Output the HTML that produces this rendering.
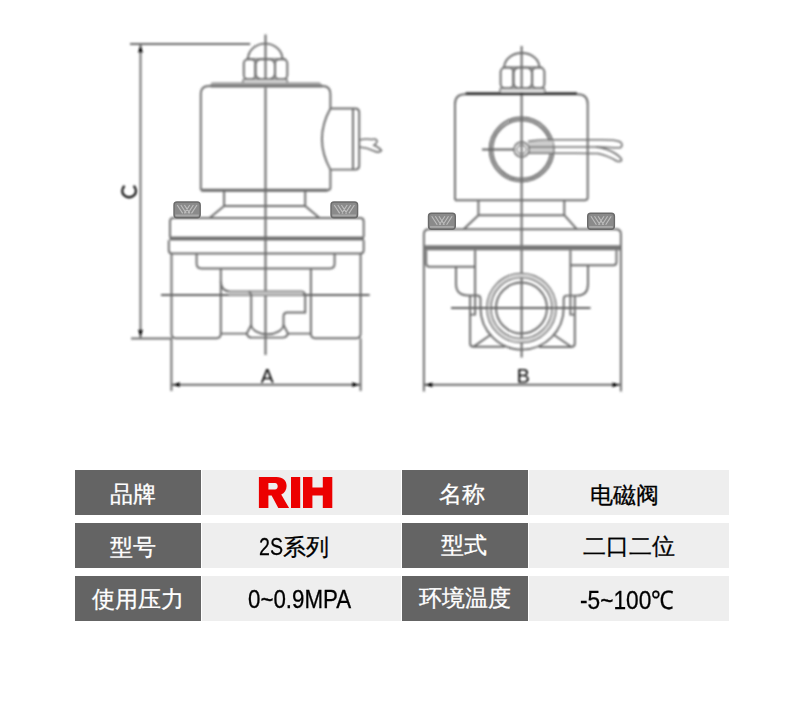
<!DOCTYPE html>
<html><head><meta charset="utf-8">
<style>
html,body{margin:0;padding:0;background:#fff;}
body{width:800px;height:703px;position:relative;overflow:hidden;font-family:"Liberation Sans",sans-serif;}
.c{position:absolute;}
.d{background:#646464;}
.l{background:#eeeeee;}
.t{position:absolute;white-space:nowrap;font-size:23px;line-height:1;-webkit-text-stroke:0.3px currentColor;}
.w{color:#fff;}
.k{color:#000;}
svg{position:absolute;left:0;top:0;}
.sx{display:inline-block;transform-origin:0 0;vertical-align:baseline;}
</style></head><body>
<svg width="800" height="440" viewBox="0 0 800 440">
<!-- DRAWING -->
<defs><filter id="bl" x="-5%" y="-5%" width="110%" height="110%"><feGaussianBlur stdDeviation="1.0"/></filter><filter id="bl2" x="-5%" y="-5%" width="110%" height="110%"><feGaussianBlur stdDeviation="0.45"/></filter></defs>
<g filter="url(#bl)" stroke="#6c6c6c" stroke-width="2" fill="none">
<path d="M130,44 H250.2" stroke="#676767" stroke-width="1.85"/>
<path d="M140.5,44 V338" stroke="#676767" stroke-width="1.85"/>
<path d="M140.5,45.099999999999994 L138.1,52.599999999999994 H142.9 Z" fill="#000000" stroke="none"/>
<path d="M140.5,337.2 L138.1,329.7 H142.9 Z" fill="#000000" stroke="none"/>
<path d="M131,338.4 H171.5" stroke-width="2"/>
<path d="M265.5,34.5 V355" stroke="#616161" stroke-width="1.9"/>
<path d="M248,59 A17.2,15.4 0 0 1 282.4,59" stroke-width="1.95"/>
<path d="M246,59 H286" stroke="#6c6c6c" stroke-width="1.7"/>
<rect x="243.8" y="59.3" width="11.6" height="19.8" rx="4.2" stroke-width="1.95"/>
<rect x="255.4" y="59.3" width="19.6" height="19.8" rx="5.5" stroke-width="1.95"/>
<rect x="275" y="59.3" width="12.3" height="19.8" rx="4.2" stroke-width="1.95"/>
<path d="M242.6,83.2 L243.5,79.4 H286.8 L287.6,83.2" stroke-width="1.5" fill="#eaeaea"/>
<path d="M210.5,87.8 V84.5 Q210.5,82.2 213,82.2 H319.5 L322.5,85 V87.8 Z" fill="#A0A0A0" stroke="none"/>
<path d="M200.8,190 V94 Q200.8,86 208.8,86 H322.3 Q330.4,86 330.4,94 V108.5 M330.4,169.6 V187.6 Q330.4,190.2 327.8,190.2 H200.8" stroke-width="1.95"/>
<path d="M201.5,190.2 H327.5" stroke-width="2.9"/>
<path d="M330.4,108.5 H355 Q359.2,108.5 359.2,112.5 V165.6 Q359.2,169.6 355,169.6 H330.4" stroke-width="1.95"/>
<path d="M353,108.5 V169.6" stroke-width="1.95"/>
<path d="M330.4,108.5 Q313.5,139 330.4,169.6" stroke-width="1.95"/>
<path d="M359.2,140 Q366,138.5 372,139.5 Q376,138 377.2,141 Q376.5,144 374,145.2 Q379.5,147.5 381.5,150.5 Q379,153.5 374,151 Q367,147.5 359.2,147" stroke-width="1.5"/>
<path d="M224.1,190.2 V206 H305.2 V190.2 M224.1,206 L209.8,217.8 M305.2,206 L319.3,217.8" stroke-width="1.95"/>
<path d="M170,237 V221.4 Q170,218 173.5,218 H360.2 Q363.7,218 363.7,221.4 V237" stroke-width="1.95"/>
<rect x="169.5" y="236.6" width="194.5" height="3.8" fill="#6a6a6a" stroke="none"/>
<path d="M168.8,240.2 V250.2 Q168.8,253.5 172,253.5 H360.5 Q363.7,253.5 363.7,250.2 V240.2" stroke-width="1.95"/>
<path d="M196.6,253.5 V263.5 Q196.6,268.4 201.5,268.4 H330 Q334.6,268.4 334.6,263.5 V253.5" stroke-width="1.95"/>
<path d="M171.5,253.5 V333.8 Q171.5,338.2 175.8,338.2 H216.5 Q220.8,338.2 220.8,333.8 V268.4" stroke-width="1.95"/>
<path d="M360.6,253.5 V333.8 Q360.6,338.2 356.3,338.2 H315.2 Q310.9,338.2 310.9,333.8 V268.4" stroke-width="1.95"/>
<path d="M220.8,333.6 H246.7 M288,333.6 H310.9" stroke-width="1.95"/>
<path d="M161,294.9 H369.7" stroke="#616161" stroke-width="2"/>
<path d="M220.8,281 Q221,291.4 230,291.4 H301.5 Q305.2,292 305.2,296 V312.5 H287.3 Q283.5,312.5 283.5,316.5 V325" stroke-width="1.95"/>
<rect x="229" y="291.6" width="73.5" height="3.4" fill="#C4C4C4" stroke="none"/>
<path d="M249,291.4 L251.2,294.5 V325" stroke-width="1.95"/>
<path d="M251.2,325 A16.2,10 0 0 0 283.5,325" stroke-width="1.95"/>
<path d="M251.2,325 L246.7,333.6 Q248,337.6 251.5,337.6 H282.5 Q286.5,337.6 288,333.6 L283.5,325" stroke-width="1.95"/>
<path d="M171.4,338.2 V391 M360.6,338.2 V391" stroke-width="1.95"/>
<path d="M171.4,384.8 H360.6" stroke="#676767" stroke-width="2.1"/>
<path d="M172.5,384.7 L180.0,382.3 V387.09999999999997 Z" fill="#000000" stroke="none"/>
<path d="M359.5,384.7 L352.0,382.3 V387.09999999999997 Z" fill="#000000" stroke="none"/>
<path d="M521.6,46 V357.5" stroke="#616161" stroke-width="1.9"/>
<path d="M504.2,67.3 A17.6,14.3 0 0 1 539.4,67.3" stroke-width="1.95"/>
<path d="M502.5,67.3 H542.5" stroke="#6c6c6c" stroke-width="1.7"/>
<rect x="500.6" y="67.6" width="12.8" height="20.6" rx="4.5" stroke-width="1.95"/>
<rect x="513.4" y="67.6" width="18.7" height="20.6" rx="5.5" stroke-width="1.95"/>
<rect x="532.1" y="67.6" width="12.3" height="20.6" rx="4.5" stroke-width="1.95"/>
<path d="M499.7,92 L500.5,88.4 H544.3 L545,92" stroke-width="1.5" fill="#eaeaea"/>
<path d="M455,200 V104 Q455,94.2 465,94.2 H577.7 Q587.7,94.2 587.7,104 V197.6 Q587.7,200.2 585,200.2 H455" stroke-width="1.95"/>
<path d="M465.6,93.6 H577" stroke="#2d2d2d" stroke-width="2.8"/>
<circle cx="521.6" cy="149.5" r="32" stroke-width="1.95"/>
<circle cx="521.6" cy="149.5" r="29.3" stroke-width="1.95"/>
<path d="M482,149.5 H514" stroke="#616161" stroke-width="2"/>
<rect x="528" y="141" width="25" height="12" fill="#cdcdcd" stroke="none"/>
<path d="M528,141.5 Q536,140 552,139.8 H602 Q616,139.8 620.5,142 Q623.5,145 620.5,147.6 Q616,148 600,147 H528" stroke-width="1.6"/>
<path d="M596,147 Q608,148.5 616,154 Q622,158 621.5,160.3 Q620.5,162.3 616.5,161 Q610,156.5 598,153.5 Q590,153.2 575,153.2 H528" stroke-width="1.6"/>
<circle cx="521.6" cy="149.5" r="7.6" stroke-width="1.5"/>
<path d="M526.6,149.5 L524.1,153.8 H519.1 L516.6,149.5 L519.1,145.2 H524.1 Z" stroke-width="1.1"/>
<path d="M478.4,200.2 V215.2 H564.3 V200.2 M478.4,215.2 L463.6,229.3 M564.3,215.2 L577,229.3" stroke-width="1.95"/>
<path d="M423.9,391.5 V234.3 Q423.9,229.3 428.9,229.3 H615.9 Q620.9,229.3 620.9,234.3 V391.5" stroke-width="1.95"/>
<rect x="424.5" y="245.3" width="196" height="5" fill="#747474" stroke="none"/>
<path d="M426.2,250.3 V263.5 Q426.2,266.8 429.5,266.8 H475.1 M616.5,250.3 V262 Q616.5,265.2 613.3,265.2 H570.4" stroke-width="1.95"/>
<path d="M475.1,250.3 V314.6 H470.1 M570.4,250.3 V314.6 H575" stroke-width="1.95"/>
<path d="M456,266.8 V284 Q456,295.5 468.6,295.5 H477 Q480.5,295.5 480.5,299 V308 A41.6,41.6 0 0 0 563.7,308 V299 Q563.7,295.6 567,295.6 H576.9 Q588,295.6 588,284 V265.2" stroke-width="1.95"/>
<circle cx="521.5" cy="308" r="32.6" stroke="#E6E6E6" stroke-width="3"/>
<circle cx="521.5" cy="308" r="34.6" stroke-width="1.5"/>
<circle cx="521.5" cy="308" r="30.6" stroke-width="1.5"/>
<circle cx="521.5" cy="308" r="25.5" stroke-width="1.95"/>
<path d="M451,308 H590.5" stroke="#616161" stroke-width="2"/>
<path d="M470.1,295.5 V343.5 Q470.1,346.8 473.5,346.8 H505" stroke-width="1.95"/>
<path d="M574.8,295.6 V343.5 Q574.8,346.9 571.5,346.9 H539" stroke-width="1.95"/>
<path d="M473.6,346.6 L490,335.3 M554.5,335.3 L571.2,346.8" stroke-width="1.95"/>
<path d="M423.9,384.8 H620.9" stroke="#676767" stroke-width="2.1"/>
<path d="M425.0,384.8 L432.5,382.40000000000003 V387.2 Z" fill="#000000" stroke="none"/>
<path d="M619.8000000000001,384.8 L612.3000000000001,382.40000000000003 V387.2 Z" fill="#000000" stroke="none"/>
<g fill="#000000" stroke="none" font-family="Liberation Sans" font-size="19.5">
<text x="267.3" y="383" text-anchor="middle">A</text>
<text x="523.2" y="383" text-anchor="middle">B</text>
</g>
<path d="M133.6,185.9 A6.9,6.5 0 1 1 124.6,185.9" stroke="#000000" stroke-width="2.1"/>
</g>
<g filter="url(#bl2)" fill="none">
<rect x="174" y="202" width="26.2" height="15.8" rx="3" fill="#8A8A8A" stroke="#6A6A6A" stroke-width="1.4"/><path d="M177.2,205.0 L182.7,213.3 M197.0,205.0 L191.5,213.3 M180.8,205.0 L186.3,213.3 M193.4,205.0 L187.9,213.3 M184.4,205.0 L189.9,213.3 M189.8,205.0 L184.3,213.3 " stroke="#BCBCBC" stroke-width="1.2"/><path d="M175.5,215.4 H198.7" stroke="#A8A8A8" stroke-width="1.8"/>
<rect x="331" y="202" width="26.6" height="15.8" rx="3" fill="#8A8A8A" stroke="#6A6A6A" stroke-width="1.4"/><path d="M334.2,205.0 L339.7,213.3 M354.4,205.0 L348.9,213.3 M337.8,205.0 L343.3,213.3 M350.8,205.0 L345.3,213.3 M341.4,205.0 L346.9,213.3 M347.2,205.0 L341.7,213.3 " stroke="#BCBCBC" stroke-width="1.2"/><path d="M332.5,215.4 H356.1" stroke="#A8A8A8" stroke-width="1.8"/>
<rect x="428.5" y="213.2" width="26.8" height="16.1" rx="3" fill="#8A8A8A" stroke="#6A6A6A" stroke-width="1.4"/><path d="M431.7,216.2 L437.2,224.8 M452.1,216.2 L446.6,224.8 M435.3,216.2 L440.8,224.8 M448.5,216.2 L443.0,224.8 M438.9,216.2 L444.4,224.8 M444.9,216.2 L439.4,224.8 " stroke="#BCBCBC" stroke-width="1.2"/><path d="M430.0,226.89999999999998 H453.8" stroke="#A8A8A8" stroke-width="1.8"/>
<rect x="587.7" y="213.2" width="26.7" height="16.1" rx="3" fill="#8A8A8A" stroke="#6A6A6A" stroke-width="1.4"/><path d="M590.9,216.2 L596.4,224.8 M611.2,216.2 L605.7,224.8 M594.5,216.2 L600.0,224.8 M607.6,216.2 L602.1,224.8 M598.1,216.2 L603.6,224.8 M604.0,216.2 L598.5,224.8 " stroke="#BCBCBC" stroke-width="1.2"/><path d="M589.2,226.89999999999998 H612.9000000000001" stroke="#A8A8A8" stroke-width="1.8"/>
</g>
</svg>

<div class="c d" style="left:75px;top:470px;width:126px;height:45px"></div>
<div class="c l" style="left:202px;top:470px;width:199px;height:45px"></div>
<div class="c d" style="left:402px;top:470px;width:126px;height:45px"></div>
<div class="c l" style="left:529px;top:470px;width:200px;height:45px"></div>

<div class="c d" style="left:75px;top:523px;width:126px;height:45px"></div>
<div class="c l" style="left:202px;top:523px;width:199px;height:45px"></div>
<div class="c d" style="left:402px;top:523px;width:126px;height:45px"></div>
<div class="c l" style="left:529px;top:523px;width:200px;height:45px"></div>

<div class="c d" style="left:75px;top:576px;width:126px;height:45px"></div>
<div class="c l" style="left:202px;top:576px;width:199px;height:45px"></div>
<div class="c d" style="left:402px;top:576px;width:126px;height:45px"></div>
<div class="c l" style="left:529px;top:576px;width:200px;height:45px"></div>

<div class="t w" id="t1" style="left:109.8px;top:483px">品牌</div>
<div class="t w" id="t2" style="left:110.1px;top:536px">型号</div>
<div class="t w" id="t3" style="left:92.3px;top:588px">使用压力</div>
<div class="t w" id="t4" style="left:439.1px;top:483px">名称</div>
<div class="t w" id="t5" style="left:441.1px;top:533.8px">型式</div>
<div class="t w" id="t6" style="left:419.1px;top:587px">环境温度</div>
<div class="t k" id="t7" style="left:258.6px;top:534.6px"><span class="sx" style="font-size:24.5px;transform:scaleX(0.8);width:23px;margin-right:1px">2S</span>系列</div>
<div class="t k" id="t8" style="left:247.9px;top:587.1px;font-size:25.5px;transform:scaleX(0.875);transform-origin:0 0">0~0.9MPA</div>
<div class="t k" id="t9" style="left:589.8px;top:483.8px">电磁阀</div>
<div class="t k" id="t10" style="left:582.6px;top:535.1px">二口二位</div>
<div class="t k" id="t11" style="left:579.8px;top:587.5px;font-size:25.5px;transform:scaleX(0.89);transform-origin:0 0">-5~100℃</div>

<svg width="800" height="703" style="position:absolute;left:0;top:0">
<path fill="#ec0000" fill-rule="evenodd" d="M258.9,477 H276.5 C283,477 286.6,480.5 286.6,486 C286.6,490 284.5,493 281.2,494.6 L289.1,508 H278.3 L271.6,495.6 H268.4 V508 H258.9 Z M268.4,483.1 H275 C276.8,483.1 277.7,484.5 277.7,486.3 C277.7,488.2 276.8,489.6 275,489.6 H268.4 Z"/>
<rect x="291" y="477" width="9.2" height="31" fill="#ec0000"/>
<path fill="#ec0000" d="M303,477 H312.4 V487.5 H322.8 V477 H332.3 V508 H322.8 V495.6 H312.4 V508 H303 Z"/>
</svg>
</body></html>
